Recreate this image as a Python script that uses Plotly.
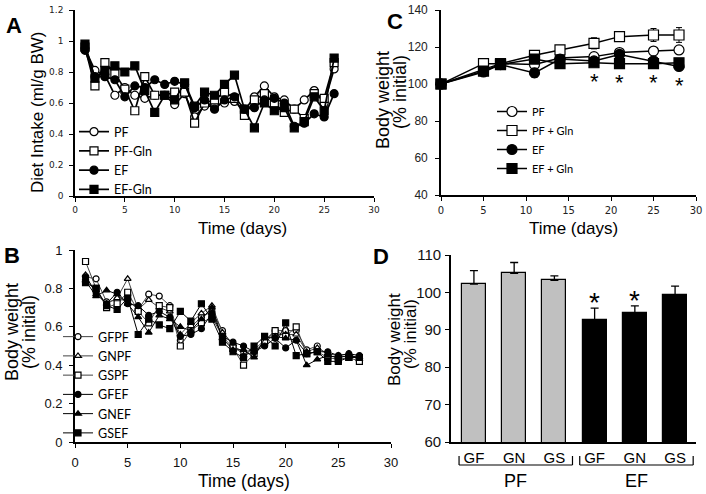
import plotly.graph_objects as go

W, H = 706, 494
def fx(p): return p / W
def fy(p): return 1 - p / H

# ---------------- Panel A: diet intake ----------------
a_days = list(range(1, 27))
a_pf = [0.95,0.81,0.78,0.65,0.70,0.65,0.63,0.65,0.65,0.59,0.66,0.51,0.58,0.58,0.60,0.61,0.55,0.64,0.71,0.64,0.62,0.56,0.62,0.68,0.60,0.82]
a_pf_gln = [0.96,0.71,0.86,0.79,0.69,0.55,0.77,0.65,0.65,0.67,0.67,0.47,0.60,0.62,0.67,0.63,0.52,0.62,0.66,0.60,0.54,0.56,0.50,0.66,0.63,0.86]
a_ef = [0.94,0.77,0.77,0.75,0.64,0.71,0.70,0.75,0.72,0.74,0.72,0.57,0.62,0.56,0.62,0.64,0.56,0.57,0.62,0.63,0.60,0.45,0.47,0.53,0.51,0.66]
a_ef_gln = [0.98,0.76,0.81,0.84,0.80,0.84,0.68,0.54,0.65,0.62,0.73,0.58,0.67,0.65,0.72,0.78,0.56,0.44,0.60,0.55,0.57,0.44,0.48,0.64,0.55,0.89]
a_yticks = [0, 0.2, 0.4, 0.6, 0.8, 1, 1.2]

# ---------------- Panel B ----------------
b_days = list(range(1, 28))
b_gfpf = [0.86,0.85,0.73,0.74,0.74,0.69,0.77,0.76,0.71,0.53,0.60,0.65,0.68,0.58,0.50,0.47,0.48,0.53,0.58,0.58,0.58,0.48,0.50,0.45,0.44,0.45,0.44]
b_gnpf = [0.87,0.77,0.72,0.75,0.85,0.69,0.74,0.70,0.68,0.56,0.62,0.67,0.71,0.57,0.51,0.45,0.47,0.52,0.56,0.56,0.56,0.47,0.49,0.46,0.45,0.46,0.43]
b_gspf = [0.94,0.80,0.70,0.72,0.78,0.68,0.62,0.71,0.70,0.50,0.58,0.62,0.65,0.55,0.49,0.40,0.46,0.52,0.58,0.55,0.60,0.46,0.47,0.44,0.43,0.44,0.42]
b_gfef = [0.86,0.78,0.72,0.78,0.72,0.71,0.66,0.68,0.65,0.55,0.56,0.59,0.67,0.55,0.52,0.50,0.47,0.50,0.54,0.49,0.53,0.46,0.47,0.47,0.45,0.46,0.45]
b_gnef = [0.84,0.76,0.79,0.77,0.72,0.65,0.57,0.66,0.64,0.60,0.58,0.64,0.70,0.54,0.48,0.48,0.44,0.54,0.55,0.54,0.53,0.40,0.43,0.45,0.44,0.45,0.44]
b_gsef = [0.83,0.80,0.71,0.69,0.75,0.56,0.64,0.61,0.59,0.68,0.63,0.72,0.64,0.52,0.47,0.44,0.50,0.55,0.50,0.62,0.45,0.46,0.47,0.42,0.42,0.44,0.44]
b_yticks = [0, 0.2, 0.4, 0.6, 0.8, 1]

# ---------------- Panel C ----------------
c_days = [0, 5, 7, 11, 14, 18, 21, 25, 28]
c_pf = [100, 108, 111, 110.5, 114, 114.8, 117, 117.8, 118.4]
c_pf_err = [0, 1, 1, 1, 1, 1.5, 1.2, 1.2, 1.5]
c_pf_gln = [100, 111, 111, 115.5, 118.4, 122, 125.6, 126.5, 126.5]
c_pf_gln_err = [0, 1, 1, 1.5, 2, 3, 2.5, 3.5, 4]
c_ef = [100, 106.5, 110.5, 106, 113.5, 112.5, 116, 112.5, 109.5]
c_ef_err = [0, 1, 1, 2.5, 1, 1.5, 1.5, 1.5, 1.5]
c_ef_gln = [100, 107, 110.5, 113.5, 111, 111.5, 111, 111, 111.5]
c_ef_gln_err = [0, 1, 1, 1.5, 1, 1.5, 1.5, 1.5, 1.5]
c_sig_days = [18, 21, 25, 28]

# ---------------- Panel D ----------------
d_groups = ["PF", "PF", "PF", "EF", "EF", "EF"]
d_labels = ["GF", "GN", "GS", "GF", "GN", "GS"]
d_vals = [102.2, 105.1, 103.2, 92.6, 94.4, 99.4]
d_err = [3.6, 2.9, 1.2, 3.2, 2.0, 2.3]
d_sig = [False, False, False, True, True, False]

TXT = "Liberation Sans"
LEG = "Lato"

fig = go.Figure()

def line_trace(x, y, name, symbol, fill, size, lw, xa, ya, legend, err=None, lcolor="black"):
    kw = dict(x=x, y=y, name=name, mode="lines+markers", xaxis=xa, yaxis=ya,
              legend=legend, cliponaxis=False,
              line=dict(color=lcolor, width=lw),
              marker=dict(symbol=symbol, size=size, color=fill,
                          line=dict(color="black", width=1.2)))
    if err is not None:
        kw["error_y"] = dict(type="data", array=err, visible=True, color="black",
                             thickness=1, width=3)
    return go.Scatter(**kw)

# Panel A traces
fig.add_trace(line_trace(a_days, a_pf, "PF", "circle", "white", 8, 1.7, "x", "y", "legend"))
fig.add_trace(line_trace(a_days, a_pf_gln, "PF-Gln", "square", "white", 8, 1.7, "x", "y", "legend"))
fig.add_trace(line_trace(a_days, a_ef, "EF", "circle", "black", 8, 1.7, "x", "y", "legend"))
fig.add_trace(line_trace(a_days, a_ef_gln, "EF-Gln", "square", "black", 8, 1.7, "x", "y", "legend"))

# Panel B traces
fig.add_trace(line_trace(b_days, b_gfpf, "GFPF", "circle", "white", 6, 1, "x2", "y2", "legend2", lcolor="#444"))
fig.add_trace(line_trace(b_days, b_gnpf, "GNPF", "triangle-up", "white", 6, 1, "x2", "y2", "legend2", lcolor="#444"))
fig.add_trace(line_trace(b_days, b_gspf, "GSPF", "square", "white", 6, 1, "x2", "y2", "legend2", lcolor="#444"))
fig.add_trace(line_trace(b_days, b_gfef, "GFEF", "circle", "black", 6, 1, "x2", "y2", "legend2"))
fig.add_trace(line_trace(b_days, b_gnef, "GNEF", "triangle-up", "black", 6, 1, "x2", "y2", "legend2"))
fig.add_trace(line_trace(b_days, b_gsef, "GSEF", "square", "black", 6, 1, "x2", "y2", "legend2"))

# Panel C traces
fig.add_trace(line_trace(c_days, c_pf, "PF", "circle", "white", 10, 1.5, "x3", "y3", "legend3", c_pf_err))
fig.add_trace(line_trace(c_days, c_pf_gln, "PF + Gln", "square", "white", 10, 1.5, "x3", "y3", "legend3", c_pf_gln_err))
fig.add_trace(line_trace(c_days, c_ef, "EF", "circle", "black", 10, 1.5, "x3", "y3", "legend3", c_ef_err))
fig.add_trace(line_trace(c_days, c_ef_gln, "EF + Gln", "square", "black", 10, 1.5, "x3", "y3", "legend3", c_ef_gln_err))

# Panel D bars
d_x = list(range(1, len(d_vals) + 1))
fig.add_trace(go.Bar(
    x=d_x, y=d_vals, xaxis="x4", yaxis="y4", width=0.6, showlegend=False,
    marker=dict(color=["#c0c0c0" if g == "PF" else "black" for g in d_groups],
                line=dict(color="black", width=1.2)),
    error_y=dict(type="data", symmetric=False, array=d_err,
                 arrayminus=[0] * len(d_err), color="black", thickness=1.3, width=4),
))

annotations = []

# Significance asterisks C
for d in c_sig_days:
    i = c_days.index(d)
    ylow = min(c_ef[i], c_ef_gln[i]) - 7.5
    annotations.append(dict(x=d, y=ylow, xref="x3", yref="y3", text="*", showarrow=False,
                            font=dict(family=TXT, size=22, color="black"),
                            xanchor="center", yanchor="middle", yshift=-5))
# Significance asterisks D
for xi, v, e, s in zip(d_x, d_vals, d_err, d_sig):
    if s:
        annotations.append(dict(x=xi, y=v + e, xref="x4", yref="y4", text="*", showarrow=False,
                                font=dict(family=TXT, size=28, color="black"),
                                xanchor="center", yanchor="bottom", yshift=-12))

def ann(text, x, y, size, angle=0, bold=False, family=TXT):
    t = f"<b>{text}</b>" if bold else text
    annotations.append(dict(x=fx(x), y=fy(y), xref="paper", yref="paper", text=t,
                            showarrow=False, textangle=angle,
                            font=dict(family=family, size=size, color="black"),
                            xanchor="center", yanchor="middle"))

# Panel letters
ann("A", 14, 26, 22, bold=True)
ann("B", 12, 255, 22, bold=True)
ann("C", 395, 22, 22, bold=True)
ann("D", 381, 256, 22, bold=True)

# Axis titles
ann("Diet Intake (ml/g BW)", 37, 112, 17, angle=-90)
ann("Time (days)", 242, 228, 17)
ann("Time (days)", 244, 481, 17.5)
ann("Time (days)", 573, 228, 17)
ann("Body weight", 12, 332, 18, angle=-90)
ann("(% initial)", 29, 332, 18, angle=-90)
ann("Body weight", 383, 100, 18, angle=-90)
ann("(% initial)", 400, 92, 18, angle=-90)
ann("Body weight", 394, 340, 17, angle=-90)
ann("(% initial)", 410, 334, 17, angle=-90)

# Panel D group brackets and labels
shapes = []
for g in ["PF", "EF"]:
    idx = [xi for xi, gg in zip(d_x, d_groups) if gg == g]
    x0, x1 = idx[0] - 0.37, idx[-1] + 0.45
    ytop, ybot = fy(456), fy(465)
    for (a, b, c, d) in [(x0, ytop, x0, ybot), (x0, ybot, x1, ybot), (x1, ybot, x1, ytop)]:
        shapes.append(dict(type="line", xref="x4", yref="paper", x0=a, y0=b, x1=c, y1=d,
                           line=dict(color="black", width=1.2)))
    annotations.append(dict(x=(x0 + x1) / 2, y=fy(481), xref="x4", yref="paper", text=g,
                            showarrow=False, font=dict(family=TXT, size=18, color="black"),
                            xanchor="center", yanchor="middle"))

def axis(**kw):
    d = dict(showline=True, linecolor="black", linewidth=1.6, ticks="outside", ticklen=4,
             tickwidth=1.3, tickcolor="black", showgrid=False, zeroline=False,
             automargin=False)
    d.update(kw)
    return d

small = dict(family="DejaVu Sans", size=9, color="#222")
mid = dict(family=TXT, size=13, color="#111")

legend_common = dict(xanchor="left", yanchor="top", bgcolor="rgba(0,0,0,0)",
                     tracegroupgap=0, itemwidth=30, borderwidth=0)

fig.update_layout(
    template="none",
    width=W, height=H, autosize=False,
    margin=dict(l=0, r=0, t=0, b=0, pad=0, autoexpand=False),
    paper_bgcolor="white", plot_bgcolor="rgba(0,0,0,0)",
    xaxis=axis(domain=[fx(75), fx(374)], range=[0, 30], dtick=5, anchor="y",
               tickfont=small, ticklabelstandoff=0),
    yaxis=axis(domain=[fy(196), fy(10)], range=[0, 1.2], tickvals=a_yticks, anchor="x",
               tickfont=small, ticklabelstandoff=4),
    xaxis2=axis(domain=[fx(75), fx(391)], range=[0, 30], dtick=5, anchor="y2",
                tickfont=mid, ticklabelstandoff=4),
    yaxis2=axis(domain=[fy(442), fy(250)], range=[0, 1], tickvals=b_yticks, anchor="x2",
                tickfont=mid, ticklabelstandoff=4),
    xaxis3=axis(domain=[fx(441), fx(696)], range=[0, 30], dtick=5, anchor="y3",
                tickfont=dict(family="DejaVu Sans", size=10, color="#222"), ticklabelstandoff=1),
    yaxis3=axis(domain=[fy(195), fy(10)], range=[40, 140], dtick=20, anchor="x3",
                tickfont=dict(family=TXT, size=12, color="#222"), ticklabelstandoff=5),
    xaxis4=axis(domain=[fx(451), fx(696)], range=[0.43, 6.52], anchor="y4", ticks="",
                tickvals=d_x, ticktext=d_labels,
                tickfont=dict(family=TXT, size=15, color="black"), ticklabelstandoff=1),
    yaxis4=axis(domain=[fy(442), fy(255)], range=[60, 110], dtick=10, anchor="x4",
                tickfont=dict(family=TXT, size=15, color="#111"), ticklabelstandoff=1),
    legend=dict(x=fx(74), y=fy(117), font=dict(family=LEG, size=12.5, color="black"), **legend_common),
    legend2=dict(x=fx(58), y=fy(322), font=dict(family=LEG, size=12.5, color="black"), **legend_common),
    legend3=dict(x=fx(492), y=fy(97), font=dict(family=LEG, size=11, color="black"), **legend_common),
    annotations=annotations,
    shapes=shapes,
    bargap=0,
)

fig.write_html("out.html", config={"displayModeBar": False},
               post_script="document.body.style.margin='0';document.body.style.padding='0';")
